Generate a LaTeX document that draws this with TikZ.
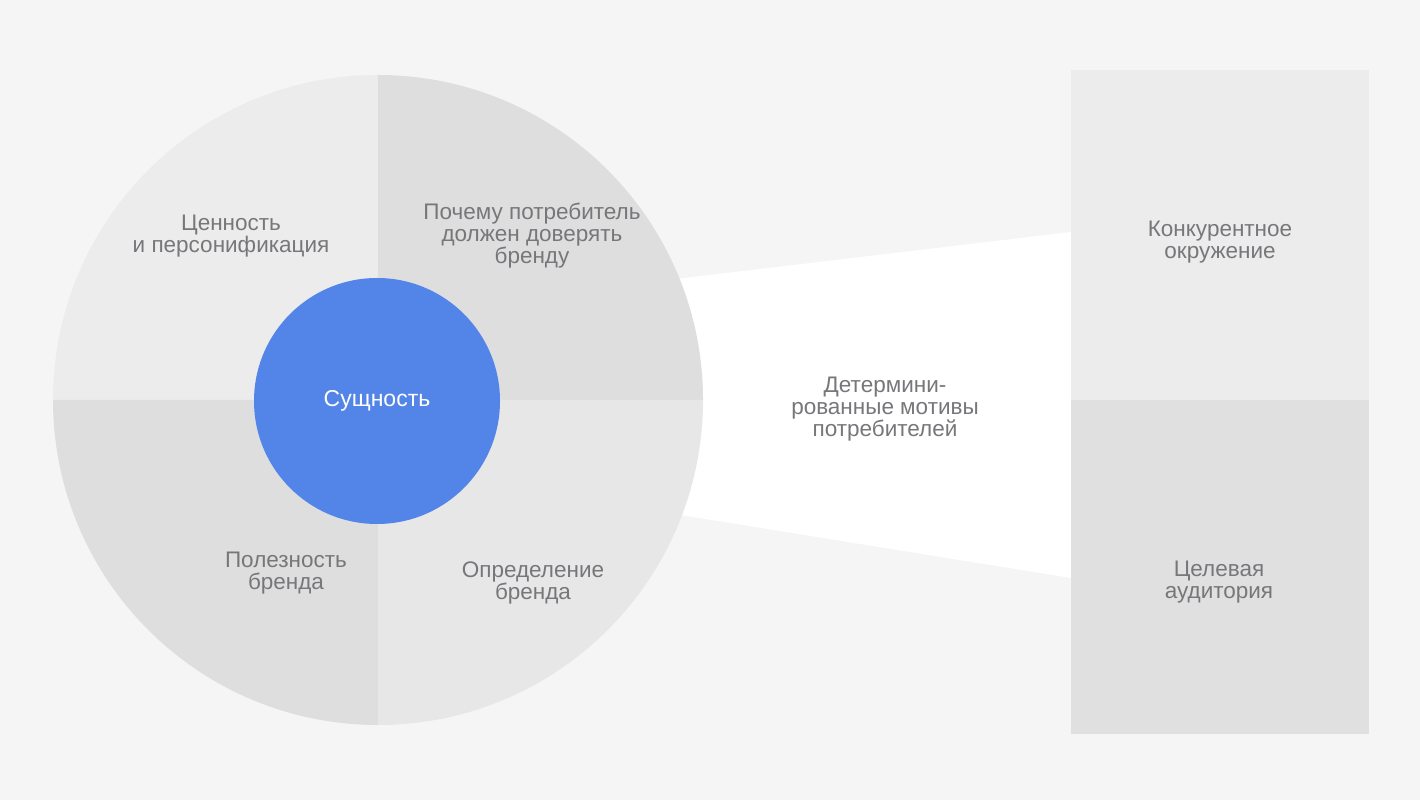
\documentclass[tikz,border=0pt]{standalone}
\usepackage{fontspec}
\setmainfont{Liberation Sans}
\usepackage{tikz}
\pgfdeclarelayer{fondo}
\pgfdeclarelayer{esquema}
\pgfsetlayers{fondo,esquema,main}
\definecolor{Fondo}{HTML}{F5F5F5}
\definecolor{GrisClaro}{HTML}{ECECEC}
\definecolor{GrisMedio}{HTML}{E7E7E7}
\definecolor{GrisOscuro}{HTML}{DEDEDE}
\definecolor{GrisBajo}{HTML}{E0E0E0}
\definecolor{Azul}{HTML}{5385E8}
\definecolor{Texto}{HTML}{77777B}
\tikzstyle{none}=[inner sep=0pt]
\tikzstyle{etiqueta}=[text=Texto,align=center,font=\fontsize{22.5}{22}\selectfont,inner sep=0pt]
\tikzstyle{nucleo}=[circle,fill=Azul,minimum size=246pt,text=white,font=\fontsize{23}{22}\selectfont,inner sep=0pt]
\tikzstyle{bloque}=[draw=none,minimum width=298pt,inner sep=0pt]

\begin{document}
\begin{tikzpicture}[x=1pt,y=1pt]
		\useasboundingbox (0,0) rectangle (1420,800);
		\begin{pgfonlayer}{fondo}
			\fill [Fondo] (0,0) rectangle (1420,800);
			\coordinate (centro) at (378,400);
			\coordinate (haz_a) at (600,512);
			\coordinate (haz_b) at (1071,568);
			\coordinate (haz_c) at (1071,222);
			\coordinate (haz_d) at (600,298);
			\fill [white] (haz_a) -- (haz_b) -- (haz_c) -- (haz_d) -- cycle;
		\end{pgfonlayer}
		\begin{pgfonlayer}{esquema}
			\fill [GrisClaro] (centro) -- ++(180:325) arc[start angle=180,end angle=90,radius=325] -- cycle;
			\fill [GrisOscuro] (centro) -- ++(90:325) arc[start angle=90,end angle=0,radius=325] -- cycle;
			\fill [GrisOscuro] (centro) -- ++(270:325) arc[start angle=270,end angle=180,radius=325] -- cycle;
			\fill [GrisMedio] (centro) -- ++(0:325) arc[start angle=0,end angle=-90,radius=325] -- cycle;
			\node [style=bloque,fill=GrisClaro,minimum height=330pt] (competencia) at (1220,565) {};
			\node [style=bloque,fill=GrisBajo,minimum height=334pt] (audiencia) at (1220,233) {};
		\end{pgfonlayer}
		\node [style=nucleo] (esencia) at (377,399) {Сущность};
		\node [style=etiqueta] (valor) at (231,564) {Ценность\\и персонификация};
		\node [style=etiqueta] (confianza) at (532,564) {Почему потребитель\\должен доверять\\бренду};
		\node [style=etiqueta] (utilidad) at (286,227) {Полезность\\бренда};
		\node [style=etiqueta] (definicion) at (533,217) {Определение\\бренда};
		\node [style=etiqueta] (motivos) at (885,391) {Детермини-\\рованные мотивы\\потребителей};
		\node [style=etiqueta] (entorno) at (1220,558) {Конкурентное\\окружение};
		\node [style=etiqueta] (publico) at (1219,218) {Целевая\\аудитория};
\end{tikzpicture}
\end{document}
